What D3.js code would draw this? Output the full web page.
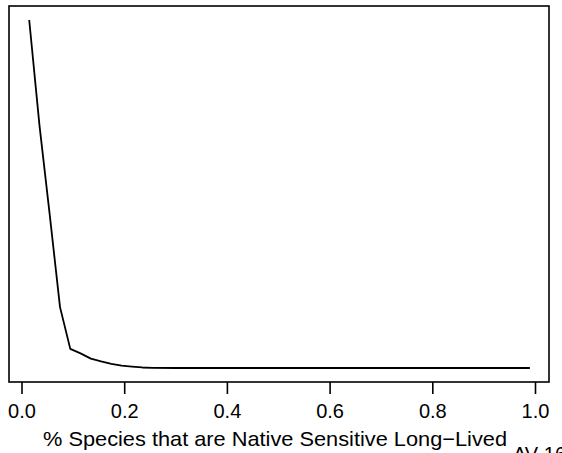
<!DOCTYPE html>
<html>
<head>
<meta charset="utf-8">
<script src="https://cdn.jsdelivr.net/npm/d3@7"></script>
<style>
  html, body { margin: 0; padding: 0; background: #fff; }
  svg { display: block; }
  text { font-family: "Liberation Sans", Arial, sans-serif; fill: #000; }
</style>
</head>
<body>
<svg id="chart" width="562" height="453"></svg>
<script>
// ---- data ----
const xValues = [0.015, 0.035, 0.055, 0.075, 0.095, 0.115, 0.135, 0.155, 0.175, 0.195,
                 0.215, 0.235, 0.255, 0.30, 0.40, 0.50, 0.60, 0.70, 0.80, 0.90, 0.99];
const yValues = [1.000, 0.697, 0.440, 0.175, 0.055, 0.042, 0.027, 0.019, 0.012, 0.007,
                 0.004, 0.0015, 0.0005, 0, 0, 0, 0, 0, 0, 0, 0];
const xTicks = [0.0, 0.2, 0.4, 0.6, 0.8, 1.0];
const xTickLabels = ["0.0", "0.2", "0.4", "0.6", "0.8", "1.0"];
const xLabel = "% Species that are Native Sensitive Long\u2212Lived";
const cornerLabel = "AV-16";

// ---- layout ----
const svg = d3.select("#chart");
const box = { left: 9, right: 549, top: 6, bottom: 382 };

const x = d3.scaleLinear().domain([0, 1]).range([21.5, 535]);
const y = d3.scaleLinear().domain([0, 1]).range([368, 20]);

// plot box
svg.append("rect")
  .attr("x", box.left).attr("y", box.top)
  .attr("width", box.right - box.left).attr("height", box.bottom - box.top)
  .attr("fill", "none").attr("stroke", "#000").attr("stroke-width", 1.6);

// x axis
const xAxis = d3.axisBottom(x)
  .tickValues(xTicks)
  .tickFormat((d, i) => xTickLabels[i])
  .tickSize(12)
  .tickPadding(10);

const gx = svg.append("g")
  .attr("transform", `translate(0,${box.bottom})`)
  .call(xAxis);
gx.select(".domain").remove();
gx.selectAll(".tick line").attr("stroke", "#000").attr("stroke-width", 1.6);
gx.selectAll(".tick text")
  .attr("font-size", 20)
  .attr("font-family", "Liberation Sans, Arial, sans-serif")
  .attr("fill", "#000");

// x label
svg.append("text")
  .attr("x", 275)
  .attr("y", 446)
  .attr("text-anchor", "middle")
  .attr("font-size", 21)
  .attr("textLength", 464)
  .attr("lengthAdjust", "spacingAndGlyphs")
  .text(xLabel);

// corner label (partially clipped, as in reference)
svg.append("text")
  .attr("x", 513)
  .attr("y", 461)
  .attr("font-size", 20)
  .text(cornerLabel);

// line
const pts = xValues.map((v, i) => [v, yValues[i]]);
svg.append("path")
  .datum(pts)
  .attr("fill", "none")
  .attr("stroke", "#000")
  .attr("stroke-width", 1.8)
  .attr("stroke-linejoin", "round")
  .attr("d", d3.line().x(d => x(d[0])).y(d => y(d[1])));
</script>
</body>
</html>
